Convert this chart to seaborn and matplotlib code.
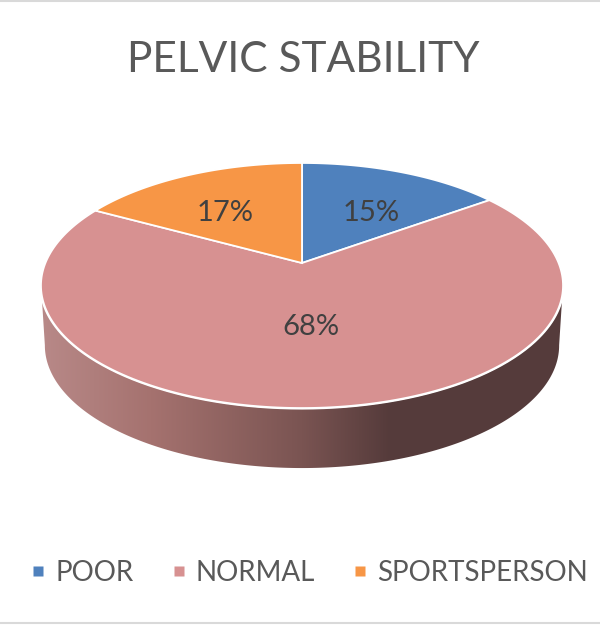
import numpy as np
import matplotlib
matplotlib.use("Agg")
import matplotlib.pyplot as plt
import seaborn as sns
from matplotlib.colors import LinearSegmentedColormap
from matplotlib.lines import Line2D
from matplotlib.patches import Polygon

# --- Chart data ---
categories = ["POOR", "NORMAL", "SPORTSPERSON"]
values = [15, 68, 17]
slice_colors = ["#4f81bd", "#d79191", "#f79646"]
title = "PELVIC STABILITY"

# --- Geometry of the tilted pie, in pixels of the 600x625 canvas ---
CX, CY = 302, 263
WIDE, DEEP, TILT = 256.6, 118.4, 0.1837
THICKNESS = 60
BASE_SCALE = 0.985
LABEL_XY = [(371, 213), (311, 327), (225, 213)]


def project(angle):
    """Perspective view of a unit circle, angle clockwise from 12 o'clock."""
    x, y = np.sin(angle), np.cos(angle)
    d = 1 + TILT * y
    return CX + WIDE * x / d, CY - DEEP * y / d


sns.set_theme(style="white")
plt.rcParams["font.family"] = ["Lato", "DejaVu Sans"]
palette = sns.color_palette(slice_colors)

fig = plt.figure(figsize=(6, 6.25), dpi=100)
ax = fig.add_axes([0, 0, 1, 1])
ax.set_xlim(0, 600)
ax.set_ylim(625, 0)
ax.axis("off")

# outer wall of the pie, shaded from left to right
t = np.linspace(0, 2 * np.pi, 721)
rim_x, rim_y = project(t)
base_x = CX + (rim_x - CX) * BASE_SCALE
base_y = rim_y + THICKNESS
low = base_y >= CY + 22 + THICKNESS
wall_low = np.column_stack([base_x[low], base_y[low]])
up = rim_y >= CY + 30
wall_up = np.column_stack([rim_x[up], rim_y[up]])[::-1]
wall = Polygon(np.vstack([wall_low, wall_up]), closed=True, fc="none", ec="none")
ax.add_patch(wall)
wall_cmap = LinearSegmentedColormap.from_list(
    "wall",
    [(0.0, "#b88988"), (0.21, "#a5726f"), (0.5, "#7a5452"),
     (0.67, "#553b3b"), (1.0, "#563c3c")],
)
shade = ax.imshow(
    np.linspace(0, 1, 256).reshape(1, -1), cmap=wall_cmap, aspect="auto",
    extent=(41, 563, 470, 290), zorder=1,
)
shade.set_clip_path(wall)
ax.set_xlim(0, 600)
ax.set_ylim(625, 0)

# white line between the wall and the top face, then the slices
ax.plot(rim_x, rim_y, color="white", lw=2.2, zorder=2)
edges = np.cumsum([0] + values) / sum(values) * 2 * np.pi
for i, color in enumerate(palette):
    a = np.linspace(edges[i], edges[i + 1], 200)
    px, py = project(a)
    ax.fill(np.r_[CX, px], np.r_[CY, py], facecolor=color,
            edgecolor="white", lw=1.3, zorder=3)

for v, (lx, ly) in zip(values, LABEL_XY):
    ax.text(lx, ly, f"{v}%", ha="center", va="center", fontsize=21,
            color="#404040", zorder=4)

ax.text(303, 60, title, ha="center", va="center", fontsize=30.5, color="#595959")

handles = [Line2D([], [], ls="", marker="s", ms=7.5, mfc=c, mec="none") for c in palette]
ax.legend(handles, categories, ncol=3, frameon=False, loc="center",
          bbox_to_anchor=(306 / 600, 1 - 573 / 625), fontsize=20,
          labelcolor="#595959", handletextpad=0.1, columnspacing=1.13,
          handlelength=1.0, borderpad=0)

# thin grey frame lines at top and bottom of the picture
ax.axhline(1, color="#d9d9d9", lw=1.5)
ax.axhline(623, color="#d9d9d9", lw=1.5)

fig.savefig("out.png", dpi=100)
